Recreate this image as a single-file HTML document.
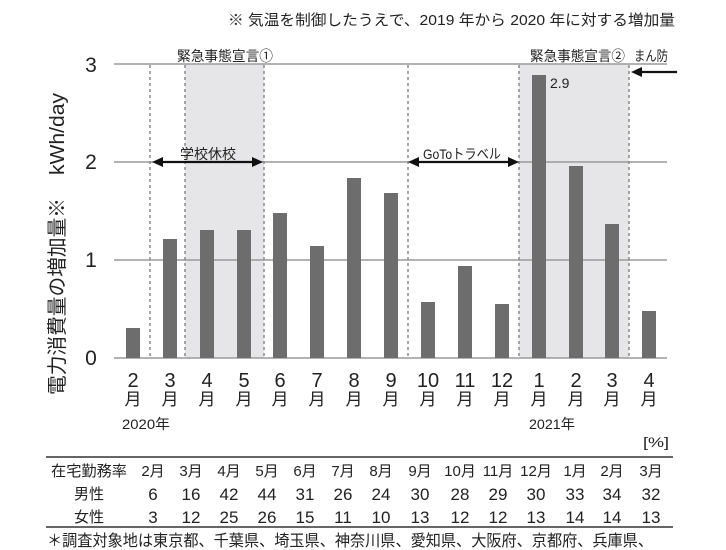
<!DOCTYPE html>
<html><head><meta charset="utf-8"><style>
html,body{margin:0;padding:0;background:#fff;}
svg{display:block;}
text{font-family:"Liberation Sans","Noto Sans CJK JP",sans-serif;fill:#222;}
</style></head><body>
<svg width="726" height="550" viewBox="0 0 726 550" xmlns="http://www.w3.org/2000/svg">
<!-- title -->
<text x="228" y="25" font-size="15" textLength="447" lengthAdjust="spacingAndGlyphs">※ 気温を制御したうえで、2019 年から 2020 年に対する増加量</text>

<!-- shaded regions -->
<rect x="185" y="64" width="79" height="294" fill="#e6e6e8"/>
<rect x="519" y="64" width="110" height="294" fill="#e6e6e8"/>

<!-- gridlines -->
<g stroke="#9a9a9a" stroke-width="1.6">
<line x1="114" y1="64" x2="667" y2="64"/>
<line x1="114" y1="162" x2="667" y2="162"/>
<line x1="114" y1="260" x2="667" y2="260"/>
<line x1="114" y1="358" x2="667" y2="358"/>
</g>

<!-- dotted verticals -->
<g stroke="#8a8a8a" stroke-width="1.5" stroke-dasharray="3,3">
<line x1="150" y1="65" x2="150" y2="358"/>
<line x1="185" y1="65" x2="185" y2="358"/>
<line x1="264" y1="65" x2="264" y2="358"/>
<line x1="408" y1="65" x2="408" y2="358"/>
<line x1="519" y1="65" x2="519" y2="358"/>
<line x1="629" y1="65" x2="629" y2="358"/>
</g>

<!-- bars -->
<g fill="#6d6d6d">
<rect x="126" y="328" width="14" height="30"/>
<rect x="163" y="239" width="14" height="119"/>
<rect x="200" y="230" width="14" height="128"/>
<rect x="237" y="230" width="14" height="128"/>
<rect x="273" y="213" width="14" height="145"/>
<rect x="310" y="246" width="14" height="112"/>
<rect x="347" y="178" width="14" height="180"/>
<rect x="384" y="193" width="14" height="165"/>
<rect x="421" y="302" width="14" height="56"/>
<rect x="458" y="266" width="14" height="92"/>
<rect x="495" y="304" width="14" height="54"/>
<rect x="532" y="75" width="14" height="283"/>
<rect x="569" y="166" width="14" height="192"/>
<rect x="605" y="224" width="14" height="134"/>
<rect x="642" y="311" width="14" height="47"/>
</g>
<text x="550" y="88" font-size="14">2.9</text>

<!-- arrows -->
<g stroke="#111" stroke-width="2.2">
<line x1="160" y1="162" x2="255" y2="162"/>
<line x1="416" y1="162" x2="511" y2="162"/>
<line x1="640" y1="72" x2="677" y2="72"/>
</g>
<g fill="#111">
<polygon points="152,162 163,157 163,167"/>
<polygon points="263,162 252,157 252,167"/>
<polygon points="408,162 419,157 419,167"/>
<polygon points="519,162 508,157 508,167"/>
<polygon points="631,72 642,67 642,77"/>
</g>
<text x="208" y="159" font-size="14" text-anchor="middle">学校休校</text>
<text x="462" y="159" font-size="14" text-anchor="middle" textLength="78" lengthAdjust="spacingAndGlyphs">GoToトラベル</text>

<text x="177" y="61" font-size="14" textLength="96" lengthAdjust="spacingAndGlyphs">緊急事態宣言①</text>
<text x="530" y="61" font-size="14" textLength="95" lengthAdjust="spacingAndGlyphs">緊急事態宣言②</text>
<text x="634" y="61" font-size="14" textLength="34" lengthAdjust="spacingAndGlyphs">まん防</text>

<!-- y tick labels -->
<g font-size="21" text-anchor="middle">
<text x="91" y="72">3</text>
<text x="91" y="169">2</text>
<text x="91" y="267">1</text>
<text x="91" y="365">0</text>
</g>

<!-- y axis title -->
<text transform="translate(64,395) rotate(-90)" font-size="20" textLength="197" lengthAdjust="spacingAndGlyphs">電力消費量の増加量※</text>
<text transform="translate(64,175) rotate(-90)" font-size="20" textLength="82" lengthAdjust="spacingAndGlyphs">kWh/day</text>

<!-- x labels -->
<g font-size="20" text-anchor="middle">
<text x="133" y="387">2</text>
<text x="170" y="387">3</text>
<text x="207" y="387">4</text>
<text x="244" y="387">5</text>
<text x="280" y="387">6</text>
<text x="317" y="387">7</text>
<text x="354" y="387">8</text>
<text x="391" y="387">9</text>
<text x="428" y="387">10</text>
<text x="465" y="387">11</text>
<text x="502" y="387">12</text>
<text x="539" y="387">1</text>
<text x="576" y="387">2</text>
<text x="612" y="387">3</text>
<text x="649" y="387">4</text>
</g>
<g font-size="17" text-anchor="middle">
<text x="133" y="405">月</text>
<text x="170" y="405">月</text>
<text x="207" y="405">月</text>
<text x="244" y="405">月</text>
<text x="280" y="405">月</text>
<text x="317" y="405">月</text>
<text x="354" y="405">月</text>
<text x="391" y="405">月</text>
<text x="428" y="405">月</text>
<text x="465" y="405">月</text>
<text x="502" y="405">月</text>
<text x="539" y="405">月</text>
<text x="576" y="405">月</text>
<text x="612" y="405">月</text>
<text x="649" y="405">月</text>
</g>
<text x="122" y="429" font-size="14" textLength="48" lengthAdjust="spacingAndGlyphs">2020年</text>
<text x="529" y="429" font-size="14" textLength="46" lengthAdjust="spacingAndGlyphs">2021年</text>

<!-- table -->
<text x="643" y="447" font-size="14" textLength="26" lengthAdjust="spacingAndGlyphs">[%]</text>
<line x1="46" y1="457" x2="673" y2="457" stroke="#333" stroke-width="1.5"/>
<line x1="46" y1="527" x2="673" y2="527" stroke="#333" stroke-width="1.5"/>

<text x="89" y="476" font-size="15" text-anchor="middle" textLength="76" lengthAdjust="spacingAndGlyphs">在宅勤務率</text>
<text x="89" y="499" font-size="15" text-anchor="middle">男性</text>
<text x="89" y="522" font-size="15" text-anchor="middle">女性</text>

<g font-size="15" text-anchor="middle">
<text x="153" y="476">2月</text>
<text x="191" y="476">3月</text>
<text x="229" y="476">4月</text>
<text x="267" y="476">5月</text>
<text x="305" y="476">6月</text>
<text x="343" y="476">7月</text>
<text x="381" y="476">8月</text>
<text x="420" y="476">9月</text>
<text x="460" y="476">10月</text>
<text x="498" y="476">11月</text>
<text x="536" y="476">12月</text>
<text x="575" y="476">1月</text>
<text x="612" y="476">2月</text>
<text x="651" y="476">3月</text>
</g>
<g font-size="17" text-anchor="middle">
<text x="153" y="500">6</text>
<text x="191" y="500">16</text>
<text x="229" y="500">42</text>
<text x="267" y="500">44</text>
<text x="305" y="500">31</text>
<text x="343" y="500">26</text>
<text x="381" y="500">24</text>
<text x="420" y="500">30</text>
<text x="460" y="500">28</text>
<text x="498" y="500">29</text>
<text x="536" y="500">30</text>
<text x="575" y="500">33</text>
<text x="612" y="500">34</text>
<text x="651" y="500">32</text>

<text x="153" y="523">3</text>
<text x="191" y="523">12</text>
<text x="229" y="523">25</text>
<text x="267" y="523">26</text>
<text x="305" y="523">15</text>
<text x="343" y="523">11</text>
<text x="381" y="523">10</text>
<text x="420" y="523">13</text>
<text x="460" y="523">12</text>
<text x="498" y="523">12</text>
<text x="536" y="523">13</text>
<text x="575" y="523">14</text>
<text x="612" y="523">14</text>
<text x="651" y="523">13</text>
</g>

<text x="47" y="546" font-size="16" textLength="606" lengthAdjust="spacingAndGlyphs">＊調査対象地は東京都、千葉県、埼玉県、神奈川県、愛知県、大阪府、京都府、兵庫県、</text>
</svg>
</body></html>
